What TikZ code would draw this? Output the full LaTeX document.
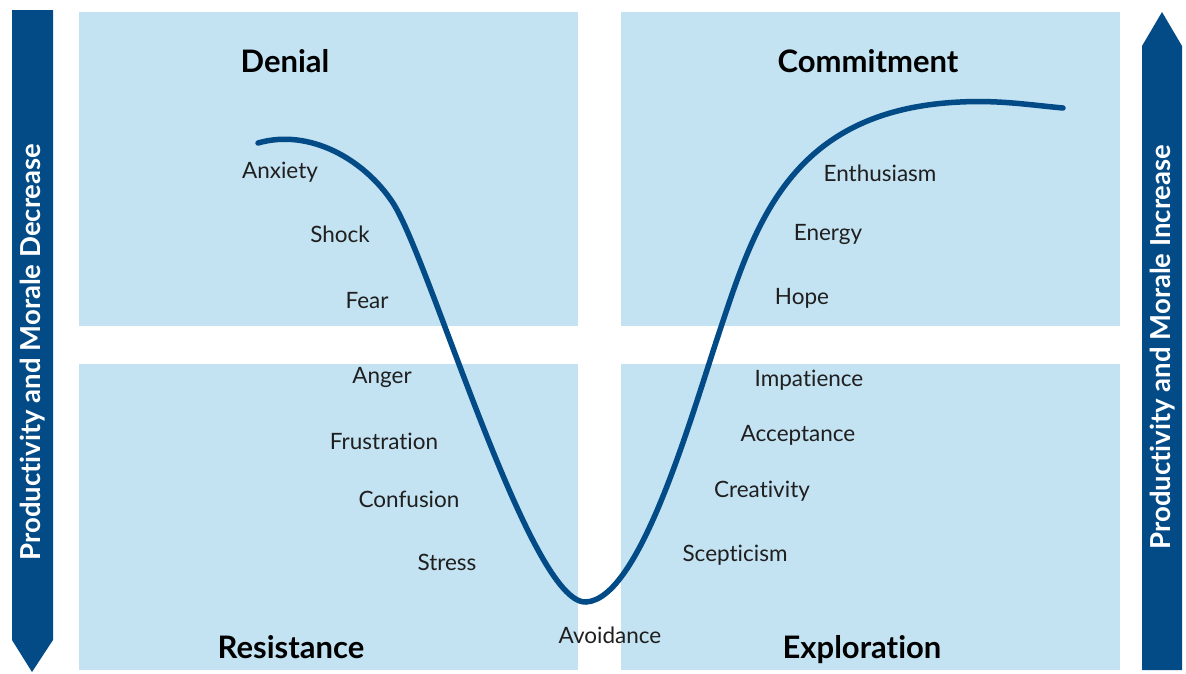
\documentclass[tikz,border=0pt]{standalone}
\usepackage{fontspec}
\setmainfont{Lato}[Ligatures=NoCommon]
\usetikzlibrary{positioning}
\definecolor{panelblue}{HTML}{C3E2F2}
\definecolor{curveblue}{HTML}{034B87}

\begin{document}
\begin{tikzpicture}[x=1pt,y=-1pt,
    panel/.style={fill=panelblue},
    feeling/.style={font=\fontsize{22.5}{22.5}\selectfont, text=black!88, inner sep=0pt},
    stage/.style={font=\fontsize{31}{31}\selectfont\bfseries, inner sep=0pt, anchor=base},
    side/.style={font=\fontsize{27.5}{27.5}\selectfont\bfseries, text=white, rotate=90, inner sep=0pt},
    curve/.style={curveblue, line width=5.5pt, line cap=round}]

  \useasboundingbox (0,0) rectangle (1186,673);

  % the four quadrants
  \fill[panel] (79,12) rectangle (578,326);
  \fill[panel] (621,12) rectangle (1120,326);
  \fill[panel] (79,364) rectangle (578,670);
  \fill[panel] (621,364) rectangle (1120,670);

  % side arrows
  \fill[curveblue] (12,10) -- (53,10) -- (53,640) -- (32,672) -- (12,640) -- cycle;
  \fill[curveblue] (1142,670) -- (1142,46) -- (1162,12) -- (1182,46) -- (1182,670) -- cycle;
  \node[side] (down) at (33,352) {Productivity and Morale Decrease};
  \node[side] (up) at (1163,347) {Productivity and Morale Increase};

  % stage titles
  \node[stage] (denial) at (285,72) {Denial};
  \node[stage] (commit) at (868,72) {Commitment};
  \node[stage] (resist) at (291,658) {Resistance};
  \node[stage] (explore) at (862,658) {Exploration};

  % the change curve
  \draw[curve] (258,143) .. controls (310,128) and (365,160) .. (393,203)
    .. controls (430,260) and (530,605) .. (586,602)
    .. controls (640,599) and (690,420) .. (720,330)
    .. controls (755,225) and (790,110) .. (960,102)
    .. controls (1000,100) and (1030,105) .. (1063,108);

  % feelings along the way down
  \node[feeling] (anxiety) at (280,172) {Anxiety};
  \node[feeling] (shock) at (340,234) {Shock};
  \node[feeling] (fear) at (367,301) {Fear};
  \node[feeling] (anger) at (382,377) {Anger};
  \node[feeling] (frustr) at (384,441) {Frustration};
  \node[feeling] (confus) at (409,499) {Confusion};
  \node[feeling] (stress) at (447,562) {Stress};
  \node[feeling] (avoid) at (610,635) {Avoidance};

  % and on the way up
  \node[feeling] (scept) at (735,555) {Scepticism};
  \node[feeling] (creat) at (762,491) {Creativity};
  \node[feeling] (accept) at (798,435) {Acceptance};
  \node[feeling] (impat) at (809,380) {Impatience};
  \node[feeling] (hope) at (802,298) {Hope};
  \node[feeling] (energy) at (828,234) {Energy};
  \node[feeling] (enthus) at (880,173) {Enthusiasm};

\end{tikzpicture}
\end{document}
